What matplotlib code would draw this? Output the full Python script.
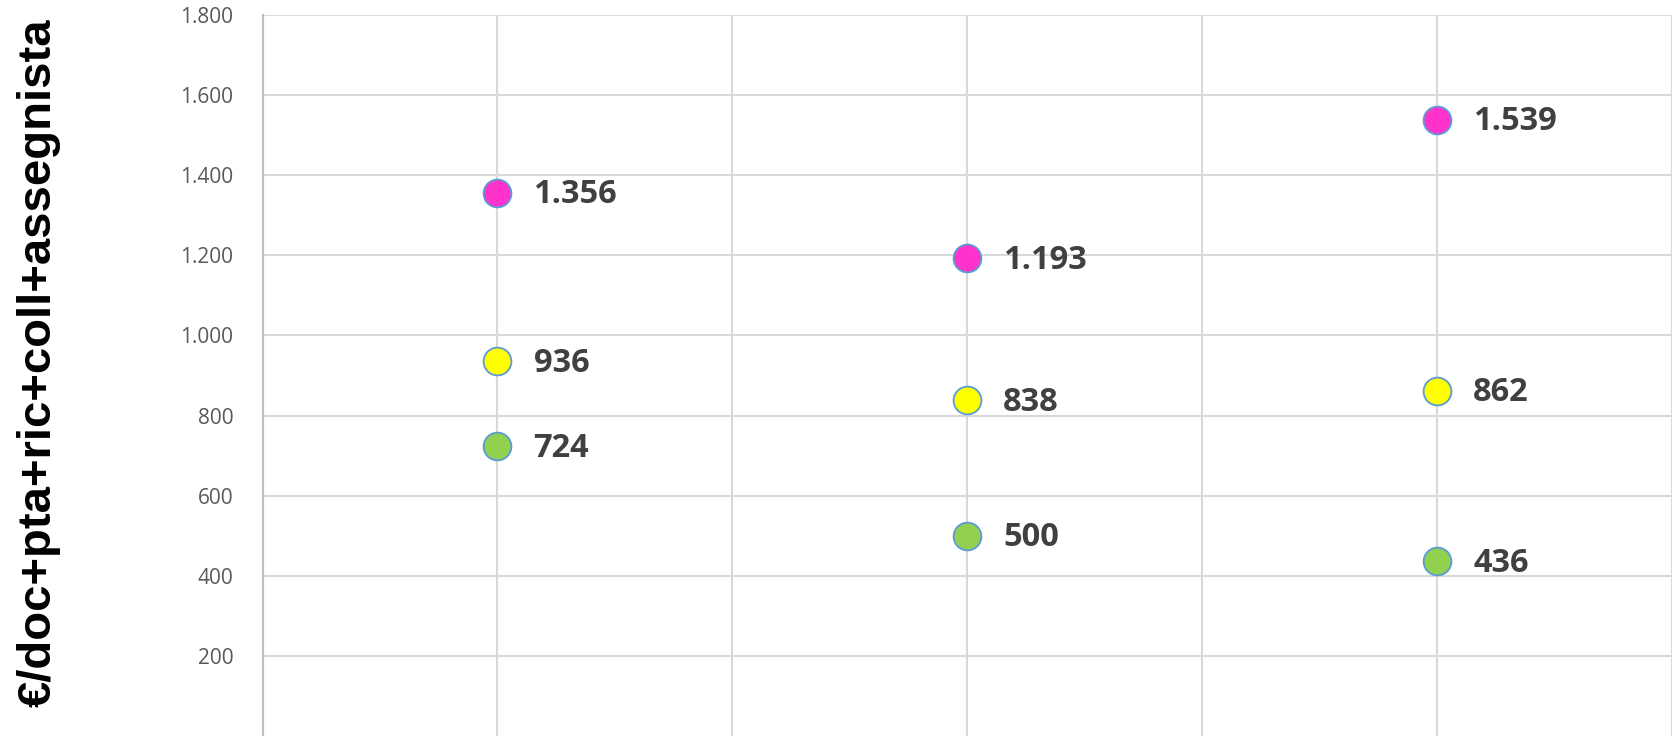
import matplotlib.pyplot as plt

# valori per gruppo (tre gruppi sull'asse x)
x_pos = [1, 3, 5]
serie_rosa = [1356, 1193, 1539]
serie_gialla = [936, 838, 862]
serie_verde = [724, 500, 436]
y_ticks = [200, 400, 600, 800, 1000, 1200, 1400, 1600, 1800]
y_label = '€/doc+pta+ric+coll+assegnista'


def fmt(v):
    return f'{v:,}'.replace(',', '.')


W, H = 1672, 736
fig = plt.figure(figsize=(W / 100, H / 100), dpi=100)
left, top, bottom = 262.5 / W, 15 / H, 0.0
ax = fig.add_axes([left, bottom, 1 - left, 1 - top - bottom])

for vals, col in [(serie_rosa, '#FF33CC'), (serie_gialla, '#FFFF00'), (serie_verde, '#92D050')]:
    ax.plot(x_pos, vals, linestyle='none', marker='o', markersize=20,
            markerfacecolor=col, markeredgecolor='#5B9BD5', markeredgewidth=1.3,
            zorder=3, clip_on=False)
    for x, v in zip(x_pos, vals):
        ax.annotate(fmt(v), (x, v), xytext=(26, -1.5), textcoords='offset points',
                    ha='left', va='center', fontsize=23.5, fontweight='bold',
                    color='#404040', family='Open Sans')

ax.set_ylim(0, 1800)
ax.set_xlim(0, (W - 262.5) / 237.25)
ax.set_yticks(y_ticks)
ax.set_yticklabels([fmt(t) for t in y_ticks], fontsize=15, color='#595959', family='Open Sans')
ax.set_xticks(range(0, 7))
ax.set_xticklabels([])
ax.tick_params(axis='both', length=0, pad=21)
ax.grid(True, color='#D9D9D9', linewidth=1.5, zorder=0)
ax.set_axisbelow(True)
for s in ['top', 'right', 'bottom']:
    ax.spines[s].set_visible(False)
ax.spines['left'].set_color('#BFBFBF')
ax.spines['left'].set_linewidth(1.5)

fig.text(39 / W, 0.507, y_label, rotation=90, ha='center', va='center',
         fontsize=34, fontweight='bold', family='Liberation Sans', color='black')

fig.savefig('out.png', dpi=100)
